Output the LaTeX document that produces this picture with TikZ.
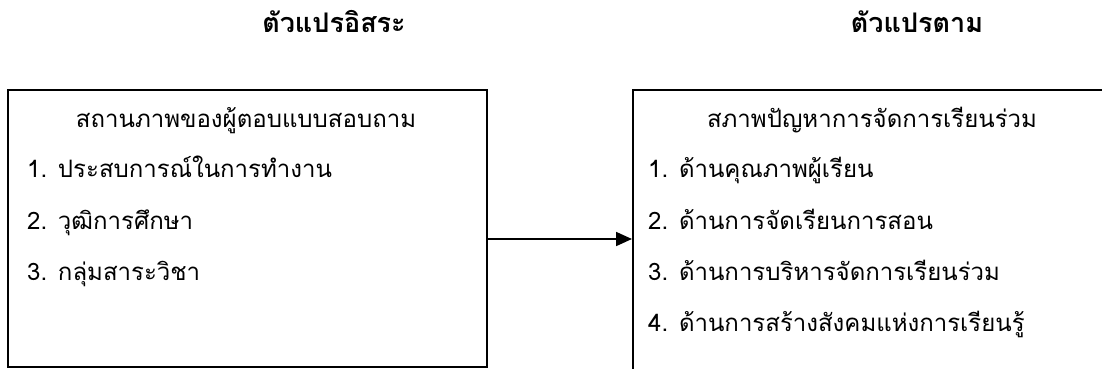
\documentclass[tikz,border=0pt]{standalone}
\usepackage{fontspec}
\newfontfamily\thaifont[Script=Thai]{Loma}
\usetikzlibrary{arrows.meta}
\tikzset{
  frame/.style={draw=black, line width=1.5pt, rectangle, inner sep=0pt},
  label/.style={font=\thaifont\fontsize{24}{28}\selectfont, inner sep=0pt},
  title/.style={font=\thaifont\bfseries\fontsize{27}{32}\selectfont, inner sep=0pt},
  link/.style={line width=1.8pt, -{Triangle[length=16pt,width=14pt]}}
}
\begin{document}
\begin{tikzpicture}[x=1pt,y=-1pt]
\useasboundingbox (0,0) rectangle (1102,369);
\clip (0,0) rectangle (1102,369);
\node[title, anchor=base] (t1) at (334,33) {ตัวแปรอิสระ};
\node[title, anchor=base] (t2) at (917,33) {ตัวแปรตาม};
\node[frame, anchor=north west, minimum width=479pt, minimum height=277pt] (lbox) at (7,89) {};
\node[frame, anchor=north west, minimum width=500pt, minimum height=300pt] (rbox) at (632,89) {};
\node[label, anchor=base] (lh) at (246,127) {สถานภาพของผู้ตอบแบบสอบถาม};
\node[label, anchor=base west] (l1) at (27,177) {1. ประสบการณ์ในการทำงาน};
\node[label, anchor=base west] (l2) at (27,229) {2. วุฒิการศึกษา};
\node[label, anchor=base west] (l3) at (27,280) {3. กลุ่มสาระวิชา};
\node[label, anchor=base] (rh) at (872,127) {สภาพปัญหาการจัดการเรียนร่วม};
\node[label, anchor=base west] (r1) at (648,177) {1. ด้านคุณภาพผู้เรียน};
\node[label, anchor=base west] (r2) at (648,229) {2. ด้านการจัดเรียนการสอน};
\node[label, anchor=base west] (r3) at (648,280) {3. ด้านการบริหารจัดการเรียนร่วม};
\node[label, anchor=base west] (r4) at (648,331) {4. ด้านการสร้างสังคมแห่งการเรียนรู้};
\coordinate (ay) at (0,239);
\draw[link] (lbox.east |- ay) -- (rbox.west |- ay);
\end{tikzpicture}
\end{document}
